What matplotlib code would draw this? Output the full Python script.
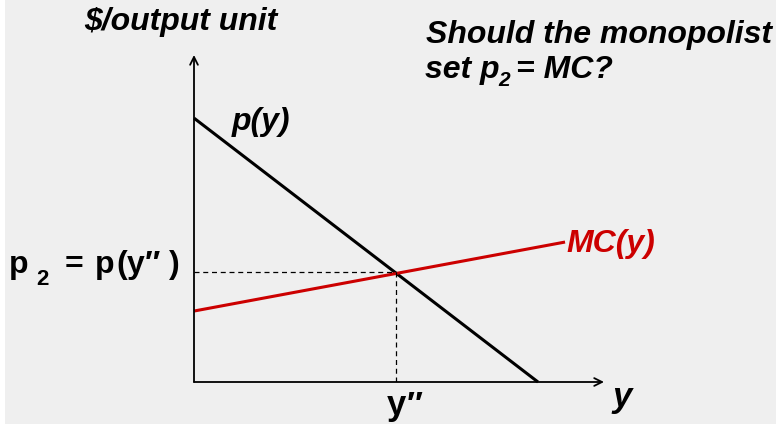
import matplotlib.pyplot as plt
from matplotlib.patches import Rectangle

# demand p(y) and marginal cost MC(y), in chart units
demand_y = [0.0, 8.39]
demand_p = [8.07, 0.0]
mc_y = [0.0, 9.05]
mc_p = [2.17, 4.28]
# point where p(y'') = MC
y2 = 4.93
p2 = 3.36

W, H = 776, 426
fig = plt.figure(figsize=(W / 100, H / 100), dpi=100, facecolor="white")
fig.patches.append(Rectangle((5 / W, 2 / H), 1 - 5 / W, 1 - 2 / H,
                             transform=fig.transFigure, facecolor="#efefef",
                             edgecolor="none", zorder=-10))

ax = fig.add_axes([194 / W, (H - 382) / H, 410 / W, 327 / H])
ax.set_xlim(0, 10)
ax.set_ylim(0, 10)
ax.axis("off")

# axes with arrow heads
for tip in [(10, 0), (0, 10)]:
    ax.annotate("", xy=tip, xytext=(0, 0),
                arrowprops=dict(arrowstyle="->", lw=1.3, color="black",
                                shrinkA=0, shrinkB=0, mutation_scale=14),
                annotation_clip=False)

ax.plot(demand_y, demand_p, color="black", lw=2.2, solid_capstyle="butt", clip_on=False)
ax.plot(mc_y, mc_p, color="#cc0000", lw=2.2, solid_capstyle="butt", clip_on=False)

# dashed guides
ax.plot([0, y2], [p2, p2], color="black", lw=0.9, ls=(0, (4, 3)))
ax.plot([y2, y2], [0, p2], color="black", lw=0.9, ls=(0, (4, 3)))

fam = ["Liberation Sans Narrow", "Liberation Sans", "DejaVu Sans"]
bi = dict(family=fam, fontweight="bold", fontstyle="italic")
bold = dict(family=fam, fontweight="bold")


def put(x, y, s, size, ha="left", **kw):
    # x, y: pixels from top-left, y is the baseline
    return fig.text(x / W, 1 - y / H, s, fontsize=size, ha=ha, va="baseline", **kw)


def right_edge(t):
    fig.canvas.draw()
    return t.get_window_extent().x1


put(84, 30, "$/output unit", 23, **bi)
put(426, 43, "Should the monopolist", 23, **bi)
t = put(425, 78, "set p", 23, **bi)
x = right_edge(t)
put(x - 1, 86, "2", 15, **bi)
put(516, 78, "= MC?", 23, **bi)

put(232, 130, "p(y)", 23, **bi)
put(566, 252, "MC(y)", 23, color="#cc0000", **bi)
put(612, 407, "y", 25, **bi)

# value labels on the axes
put(396, 415, "y", 25, ha="center", **bold)
put(415, 415, "\u2033", 24, ha="center", **bold)

put(19, 273, "p", 23, ha="center", **bold)
put(42, 285, "2", 16, ha="center", **bold)
for cx, ch in [(74, "="), (105, "p"), (122, "("), (136, "y"), (152, "\u2033"), (174, ")")]:
    put(cx, 273, ch, 23, ha="center", **bold)

fig.savefig("out.png", dpi=100, facecolor=fig.get_facecolor())
